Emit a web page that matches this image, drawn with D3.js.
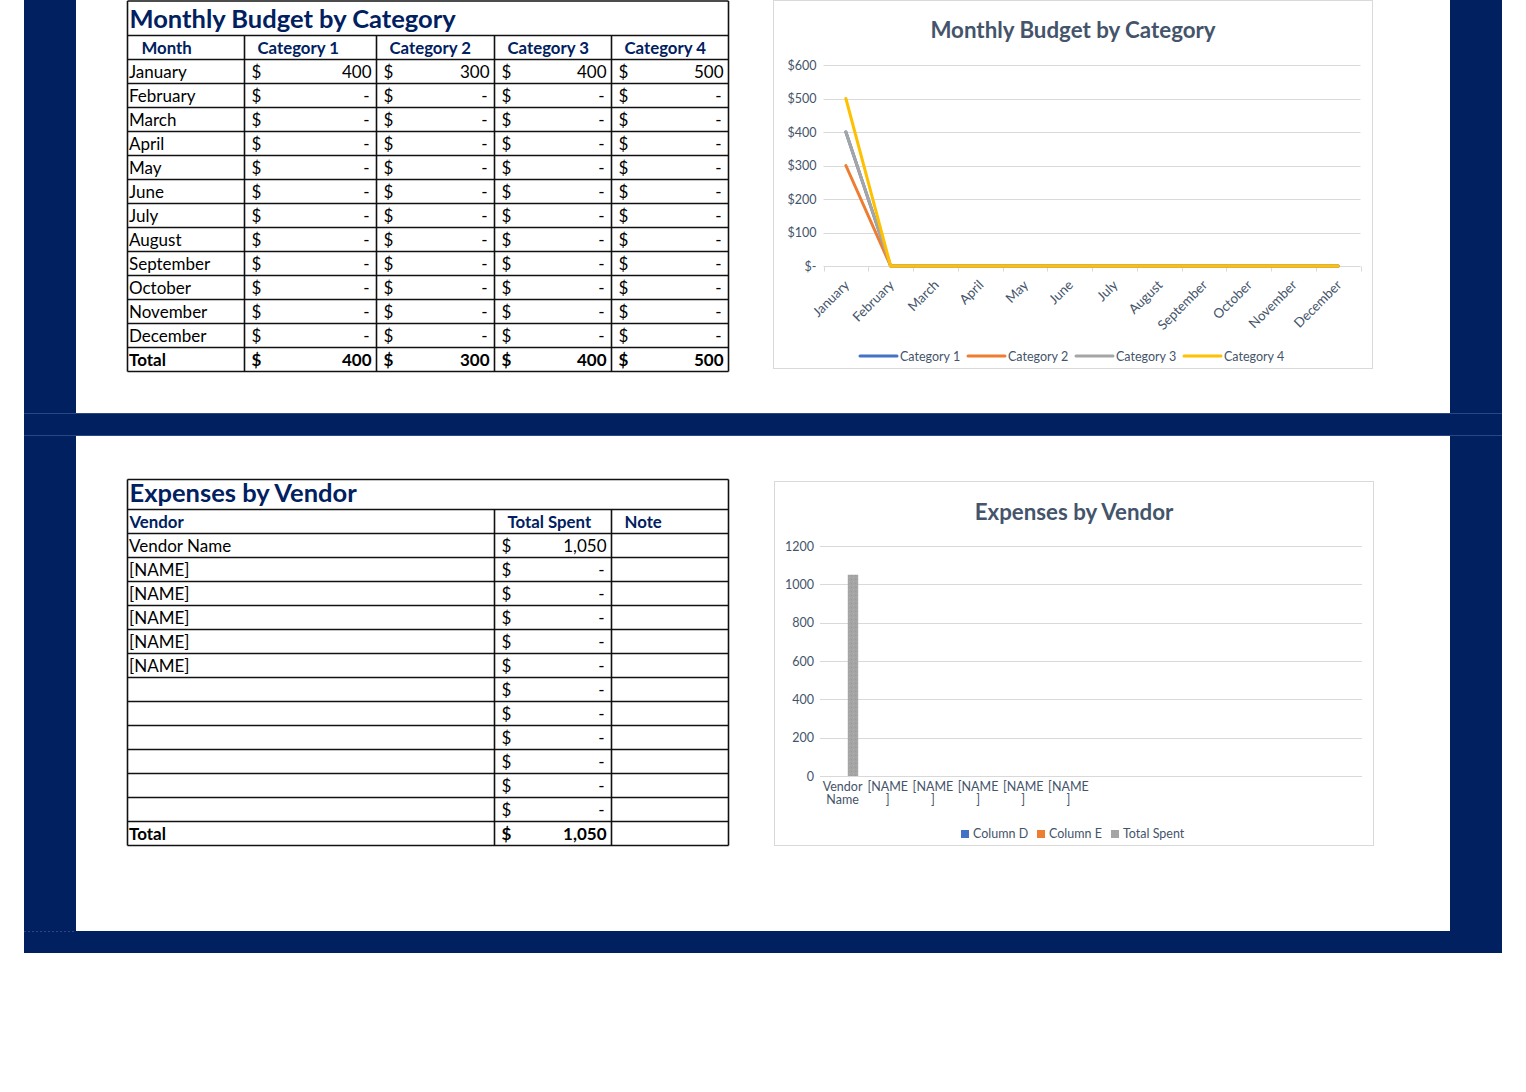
<!DOCTYPE html>
<html><head><meta charset="utf-8">
<script src="https://cdn.jsdelivr.net/npm/d3@7"></script>
<style>
html,body{margin:0;padding:0;background:#fff;}
svg{display:block;}
text{font-family:Lato, "Open Sans", sans-serif;}
</style></head>
<body>
<script>
// ---------- DATA ----------
const months = ["January","February","March","April","May","June","July","August","September","October","November","December"];
const category1 = [400,0,0,0,0,0,0,0,0,0,0,0];
const category2 = [300,0,0,0,0,0,0,0,0,0,0,0];
const category3 = [400,0,0,0,0,0,0,0,0,0,0,0];
const category4 = [500,0,0,0,0,0,0,0,0,0,0,0];
const categoryNames = ["Category 1","Category 2","Category 3","Category 4"];
const lineTicks = [0,100,200,300,400,500,600];

const vendors = ["Vendor Name","[NAME]","[NAME]","[NAME]","[NAME]","[NAME]","","","","","",""];
const totalSpent = [1050,0,0,0,0,0,0,0,0,0,0,0];
const barSeries = ["Column D","Column E","Total Spent"];
const barTicks = [0,200,400,600,800,1000,1200];

const colors = ["#4472c4","#ed7d31","#a5a5a5","#ffc000"];
const navy = "#002060";
const chartText = "#44546a";

// ---------- SVG ----------
const svg = d3.select("body").append("svg").attr("width",1526).attr("height",1092);
svg.append("rect").attr("width",1526).attr("height",1092).attr("fill","#fff");

// frame
svg.append("rect").attr("x",24).attr("y",0).attr("width",52).attr("height",953).attr("fill",navy);
svg.append("rect").attr("x",1450).attr("y",0).attr("width",52).attr("height",953).attr("fill",navy);
svg.append("rect").attr("x",24).attr("y",414).attr("width",1478).attr("height",21).attr("fill",navy);
svg.append("rect").attr("x",24).attr("y",931).attr("width",1478).attr("height",22).attr("fill",navy);
[413.5,435.5].forEach(y=>svg.append("line").attr("x1",24).attr("x2",1502).attr("y1",y).attr("y2",y).attr("stroke","#2a4685").attr("stroke-width",1));
svg.append("line").attr("x1",24).attr("x2",76).attr("y1",931.5).attr("y2",931.5).attr("stroke","#2a4685").attr("stroke-dasharray","2,2");

const defs = svg.append("defs");
const pat = defs.append("pattern").attr("id","speckle").attr("width",4).attr("height",4).attr("patternUnits","userSpaceOnUse");
pat.append("rect").attr("width",4).attr("height",4).attr("fill","#a5a5a5");
pat.append("rect").attr("x",1).attr("y",1).attr("width",1).attr("height",1).attr("fill","#b4b4b4");
pat.append("rect").attr("x",3).attr("y",3).attr("width",1).attr("height",1).attr("fill","#9a9a9a");

const fmtNum = d3.format(",");
const acct = v => v===0 ? "-" : fmtNum(v);

// ---------- TABLES ----------
function drawTable(opts){
  const g = svg.append("g");
  const {x0,x1,top,titleH,rowH,cols,title,headers,rows,total} = opts;
  const hTop = top+titleH;
  const nRows = rows.length+2;
  const bottom = hTop + nRows*rowH;
  g.append("text").attr("x",x0+2).attr("y",top+titleH-8).attr("fill",navy)
    .attr("font-weight","bold").attr("font-size",25.5).text(title);
  headers.forEach((h,i)=>{
    g.append("text").attr("x",cols[i]+h.dx).attr("y",hTop+rowH-6).attr("fill",navy)
      .attr("font-weight","bold").attr("font-size",16.8).text(h.t);
  });
  const allRows = rows.concat([total]);
  allRows.forEach((r,ri)=>{
    const y = hTop + (ri+1)*rowH + rowH-6;
    const bold = ri===allRows.length-1;
    r.forEach((c,ci)=>{
      if(c===null) return;
      if(ci===0){
        g.append("text").attr("x",x0+1.5).attr("y",y).attr("font-size",17)
          .attr("font-weight",bold?"bold":"normal").attr("fill","#000").text(c);
      } else if (typeof c === "number") {
        g.append("text").attr("x",cols[ci]+7).attr("y",y).attr("font-size",17)
          .attr("font-weight",bold?"bold":"normal").attr("fill","#000").text("$");
        g.append("text").attr("x",cols[ci+1]-(c===0?7:5)).attr("y",y).attr("font-size",17)
          .attr("text-anchor","end").attr("font-weight",bold?"bold":"normal").attr("fill","#000").text(acct(c));
      }
    });
  });
  const ln = (xa,ya,xb,yb)=>g.append("line").attr("x1",xa).attr("y1",ya).attr("x2",xb).attr("y2",yb)
      .attr("stroke","#111").attr("stroke-width",1.6);
  ln(x0,top,x1,top);
  for(let i=0;i<=nRows;i++) ln(x0,hTop+i*rowH,x1,hTop+i*rowH);
  ln(x0,top,x0,bottom); ln(x1,top,x1,bottom);
  cols.slice(1,-1).forEach(x=>ln(x,hTop,x,bottom));
}

const t1rows = months.map((m,i)=>[m,category1[i],category2[i],category3[i],category4[i]]);
drawTable({
  x0:127.5,x1:728.5,top:1,titleH:34.5,rowH:24,
  cols:[127.5,244.5,376.5,494.5,611.5,728.5],
  title:"Monthly Budget by Category",
  headers:[{t:"Month",dx:14},{t:"Category 1",dx:13},{t:"Category 2",dx:13},{t:"Category 3",dx:13},{t:"Category 4",dx:13}],
  rows:t1rows,
  total:["Total",d3.sum(category1),d3.sum(category2),d3.sum(category3),d3.sum(category4)]
});

const t2rows = vendors.map((v,i)=>[v,totalSpent[i],null]);
drawTable({
  x0:127.5,x1:728.5,top:479.5,titleH:30,rowH:24,
  cols:[127.5,494.5,611.5,728.5],
  title:"Expenses by Vendor",
  headers:[{t:"Vendor",dx:2},{t:"Total Spent",dx:13},{t:"Note",dx:13}],
  rows:t2rows,
  total:["Total",d3.sum(totalSpent),null]
});

// ---------- LINE CHART ----------
{
  const g = svg.append("g");
  g.append("rect").attr("x",773.5).attr("y",0.5).attr("width",599).attr("height",368)
    .attr("fill","#fff").attr("stroke","#d9d9d9");
  g.append("text").attr("x",1073).attr("y",38).attr("text-anchor","middle")
    .attr("font-size",22.3).attr("font-weight","bold").attr("fill",chartText).text("Monthly Budget by Category");
  const x = d3.scaleBand().domain(months).range([823.5,1360.5]);
  const y = d3.scaleLinear().domain([0,600]).range([266,65]);
  g.selectAll(".gl").data(lineTicks.filter(d=>d>0)).join("line")
    .attr("x1",823.5).attr("x2",1360.5).attr("y1",d=>Math.round(y(d))+0.5).attr("y2",d=>Math.round(y(d))+0.5)
    .attr("stroke","#d9d9d9");
  const yAxis = g.append("g").attr("transform","translate(823.5,0)")
    .call(d3.axisLeft(y).tickValues(lineTicks).tickSize(0).tickPadding(7).tickFormat(d=>d===0?"$-":"$"+d));
  yAxis.select(".domain").remove();
  yAxis.selectAll("text").attr("font-size",12.5).attr("fill",chartText).attr("font-family","Lato");
  const xa = g.append("g").attr("transform","translate(0,266.5)");
  xa.append("line").attr("x1",823.5).attr("x2",1360.5).attr("stroke","#d9d9d9");
  const bounds = months.map(m=>x(m)).concat([x.range()[1]]);
  xa.selectAll(".tk").data(bounds).join("line").attr("x1",d=>Math.round(d)+0.5).attr("x2",d=>Math.round(d)+0.5)
    .attr("y1",0).attr("y2",5).attr("stroke","#d9d9d9");
  xa.selectAll(".lbl").data(months).join("text")
    .attr("transform",d=>`translate(${x(d)+x.bandwidth()/2+1},${16}) rotate(-45)`)
    .attr("text-anchor","end").attr("dy","0.35em").attr("font-size",13.3).attr("fill",chartText).text(d=>d);
  const series = [category1,category2,category3,category4];
  const line = d3.line().x((d,i)=>x(months[i])+x.bandwidth()/2).y(d=>y(d));
  series.forEach((s,i)=>{
    g.append("path").datum(s).attr("d",line).attr("fill","none").attr("stroke",colors[i])
      .attr("stroke-width",3).attr("stroke-linejoin","round").attr("stroke-linecap","round");
  });
  const lx = [860,968,1076,1184];
  categoryNames.forEach((n,i)=>{
    g.append("line").attr("x1",lx[i]).attr("x2",lx[i]+37).attr("y1",356).attr("y2",356)
      .attr("stroke",colors[i]).attr("stroke-width",3).attr("stroke-linecap","round");
    g.append("text").attr("x",lx[i]+40).attr("y",360.5).attr("font-size",12.5).attr("fill",chartText).text(n);
  });
}

// ---------- BAR CHART ----------
{
  const g = svg.append("g");
  g.append("rect").attr("x",774.5).attr("y",481.5).attr("width",599).attr("height",364)
    .attr("fill","#fff").attr("stroke","#d9d9d9");
  g.append("text").attr("x",1074).attr("y",520).attr("text-anchor","middle")
    .attr("font-size",22.3).attr("font-weight","bold").attr("fill",chartText).text("Expenses by Vendor");
  const cats = vendors.map((v,i)=>i);
  const x = d3.scaleBand().domain(cats).range([820,1362]);
  const y = d3.scaleLinear().domain([0,1200]).range([776,546]);
  g.selectAll(".gl").data(barTicks).join("line")
    .attr("x1",820).attr("x2",1362).attr("y1",d=>Math.round(y(d))+0.5).attr("y2",d=>Math.round(y(d))+0.5)
    .attr("stroke","#d9d9d9");
  const yAxis = g.append("g").attr("transform","translate(820,0)")
    .call(d3.axisLeft(y).tickValues(barTicks).tickSize(0).tickPadding(6).tickFormat(d=>d));
  yAxis.select(".domain").remove();
  yAxis.selectAll("text").attr("font-size",12.5).attr("fill",chartText).attr("font-family","Lato");
  const xs = d3.scaleBand().domain(barSeries).range([0,x.bandwidth()]).paddingInner(0).paddingOuter(0.67);
  const seriesVals = {"Column D":vendors.map(()=>0),"Column E":vendors.map(()=>0),"Total Spent":totalSpent};
  barSeries.forEach((s,si)=>{
    g.selectAll(".b"+si).data(seriesVals[s].map((v,i)=>({v,i}))).join("rect")
      .attr("x",d=>x(d.i)+xs(s)).attr("width",xs.bandwidth())
      .attr("y",d=>y(d.v)).attr("height",d=>y(0)-y(d.v)).attr("fill",si===2?"url(#speckle)":colors[si]);
  });
  const wrap = v => v==="Vendor Name" ? ["Vendor","Name"] : (v==="[NAME]" ? ["[NAME","]"] : [v]);
  vendors.forEach((v,i)=>{
    const t = g.append("text").attr("x",x(i)+x.bandwidth()/2).attr("y",791)
      .attr("text-anchor","middle").attr("font-size",12.5).attr("fill",chartText);
    wrap(v).forEach((w,k)=>t.append("tspan").attr("x",x(i)+x.bandwidth()/2).attr("dy",k?13:0).text(w));
  });
  const lx = [961,1037,1111];
  barSeries.forEach((n,i)=>{
    g.append("rect").attr("x",lx[i]).attr("y",830).attr("width",8).attr("height",8).attr("fill",colors[i]);
    g.append("text").attr("x",lx[i]+12).attr("y",838).attr("font-size",12.5).attr("fill",chartText).text(n);
  });
}
</script>
</body></html>
